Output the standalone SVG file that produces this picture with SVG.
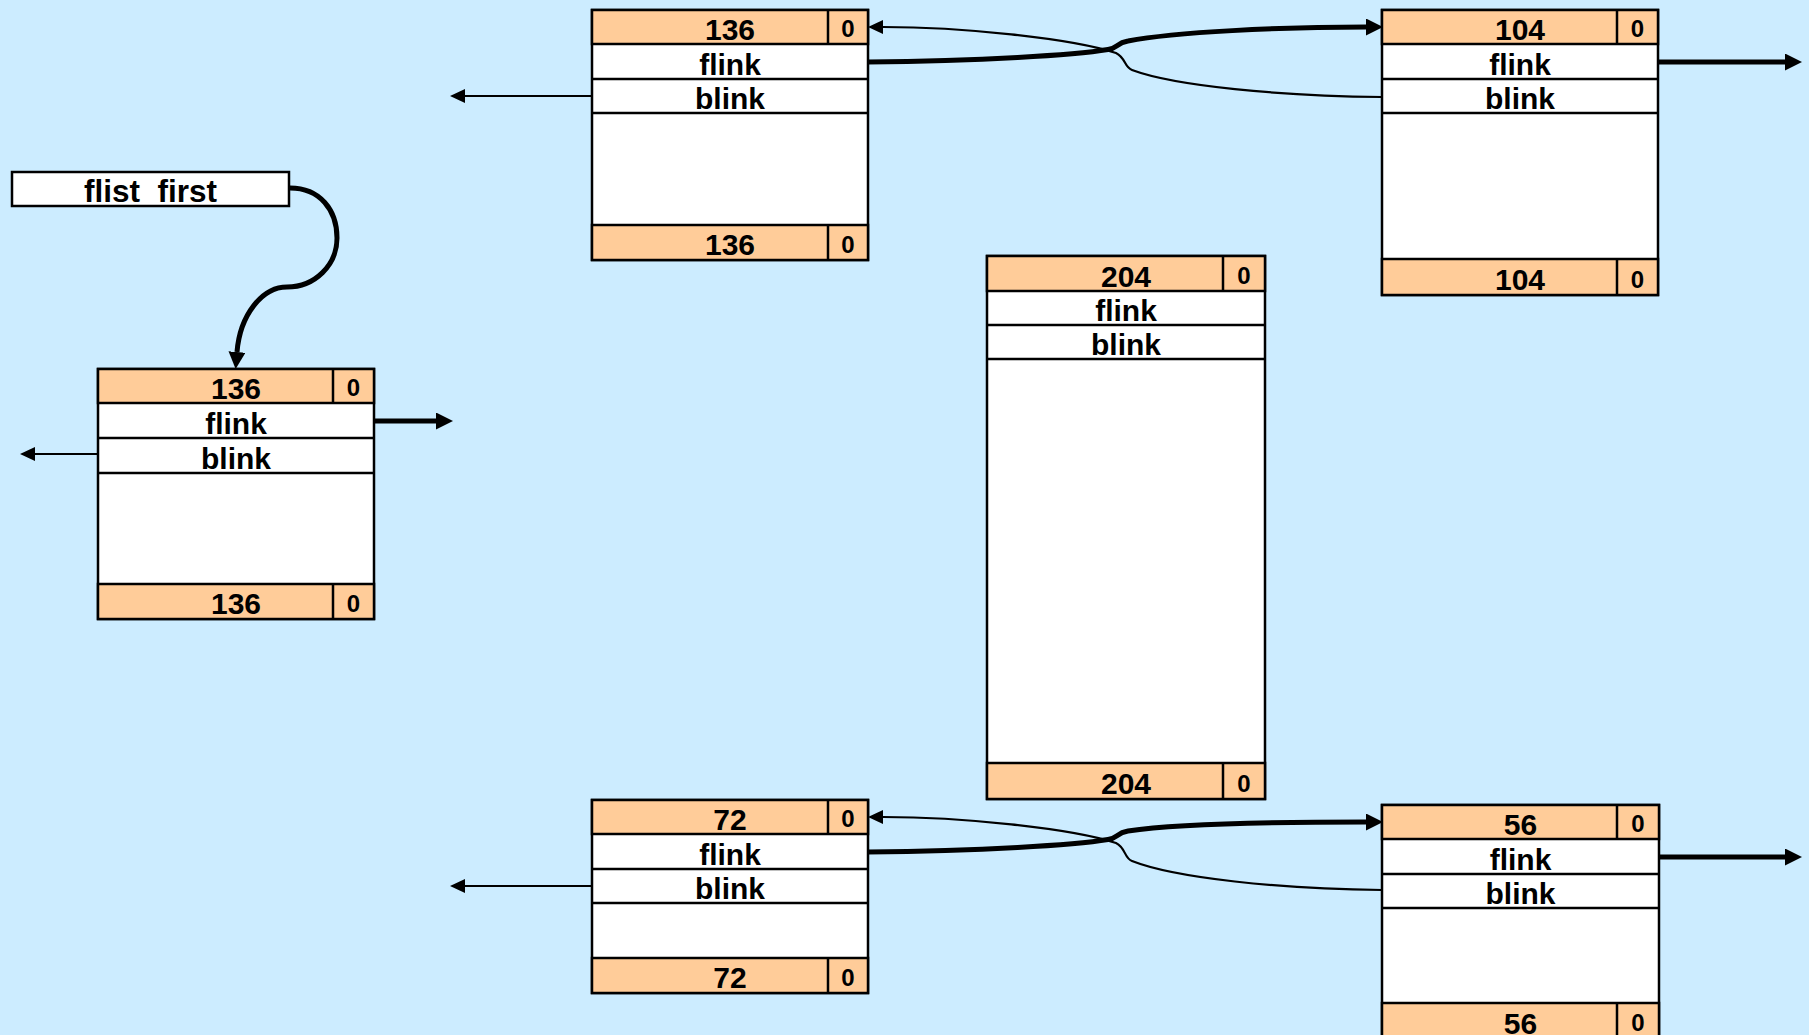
<svg xmlns="http://www.w3.org/2000/svg" width="1809" height="1035" viewBox="0 0 1809 1035">
<defs>
<style>
.bg{fill:#CCECFF}
.box{fill:#FFFFFF;stroke:#000;stroke-width:2.5}
.hdr{fill:#FFCC99;stroke:#000;stroke-width:2.5}
.sep{stroke:#000;stroke-width:2.5;fill:none}
.t{font-family:"Liberation Sans",Arial,sans-serif;font-weight:bold;font-size:30px;fill:#000;text-anchor:middle}
.z{font-family:"Liberation Sans",Arial,sans-serif;font-weight:bold;font-size:24px;fill:#000;text-anchor:middle}
.thick{stroke:#000;stroke-width:5;fill:none}
.thin{stroke:#000;stroke-width:2.2;fill:none}
</style>
<marker id="ah" markerUnits="userSpaceOnUse" markerWidth="18" markerHeight="18" refX="0" refY="8.5" orient="auto">
<path d="M0,0 L17,8.5 L0,17 z" fill="#000"/>
</marker>
<marker id="as" markerUnits="userSpaceOnUse" markerWidth="16" markerHeight="16" refX="0" refY="7" orient="auto">
<path d="M0,0 L15,7 L0,14 z" fill="#000"/>
</marker>
</defs>
<rect class="bg" x="0" y="0" width="1809" height="1035"/>

<g id="connectors">
<path class="thick" d="M290,188 C320,188 337,210 337,238 C337,265 315,287 287,287 C262,287 240,315 237,352" marker-end="url(#ah)"/>
<path class="thick" d="M374,421 L436,421" marker-end="url(#ah)"/>
<path class="thin" d="M98,454 L35,454" marker-end="url(#as)"/>
<path class="thin" d="M592,96 L465,96" marker-end="url(#as)"/>
<path class="thin" d="M592,886 L465,886" marker-end="url(#as)"/>
<path class="thick" d="M1658,62 L1785,62" marker-end="url(#ah)"/>
<path class="thick" d="M1659,857 L1785,857" marker-end="url(#ah)"/>
<path class="thick" d="M868,62 C980,61 1075,55 1108,49.5 C1118,48 1116,43 1128,41 C1175,32 1280,27 1366,27" marker-end="url(#ah)"/>
<path class="thin" d="M1382,97 C1280,96 1175,86 1132,70 C1124,67 1126,58 1116,53 C1070,38 960,27 883,27" marker-end="url(#as)"/>
<path class="thick" d="M868,852 C980,851 1075,845 1108,839.5 C1118,838 1116,833 1128,831 C1175,824 1280,822 1366,822" marker-end="url(#ah)"/>
<path class="thin" d="M1382,890 C1280,889 1175,878 1132,861 C1124,858 1126,848 1116,843 C1070,828 960,817 883,817" marker-end="url(#as)"/>
</g>

<g id="flist_first">
<rect class="box" x="12" y="172" width="277" height="34"/>
<text class="t" x="150.5" y="202" style="font-size:31.5px">flist_first</text>
</g>

<g id="chunk-136-top">
<rect class="box" x="592" y="10" width="276" height="250"/>
<rect class="hdr" x="592" y="10" width="276" height="34"/>
<rect class="hdr" x="592" y="225" width="276" height="35"/>
<path class="sep" d="M592,79 H868 M592,113 H868 M828,10 V44 M828,225 V260"/>
<text class="t" x="730" y="40">136</text>
<text class="z" x="848" y="37">0</text>
<text class="t" x="730" y="75">flink</text>
<text class="t" x="730" y="109">blink</text>
<text class="t" x="730" y="255">136</text>
<text class="z" x="848" y="253">0</text>
</g>

<g id="chunk-104">
<rect class="box" x="1382" y="10" width="276" height="285"/>
<rect class="hdr" x="1382" y="10" width="276" height="34"/>
<rect class="hdr" x="1382" y="259" width="276" height="36"/>
<path class="sep" d="M1382,79 H1658 M1382,113 H1658 M1617,10 V44 M1617,259 V295"/>
<text class="t" x="1520" y="40">104</text>
<text class="z" x="1637.5" y="37">0</text>
<text class="t" x="1520" y="75">flink</text>
<text class="t" x="1520" y="109">blink</text>
<text class="t" x="1520" y="290">104</text>
<text class="z" x="1637.5" y="288">0</text>
</g>

<g id="chunk-136-left">
<rect class="box" x="98" y="369" width="276" height="250"/>
<rect class="hdr" x="98" y="369" width="276" height="34"/>
<rect class="hdr" x="98" y="584" width="276" height="35"/>
<path class="sep" d="M98,438 H374 M98,473 H374 M333,369 V403 M333,584 V619"/>
<text class="t" x="236" y="399">136</text>
<text class="z" x="353.5" y="396">0</text>
<text class="t" x="236" y="434">flink</text>
<text class="t" x="236" y="469">blink</text>
<text class="t" x="236" y="614">136</text>
<text class="z" x="353.5" y="612">0</text>
</g>

<g id="chunk-204">
<rect class="box" x="987" y="256" width="278" height="543"/>
<rect class="hdr" x="987" y="256" width="278" height="35"/>
<rect class="hdr" x="987" y="763" width="278" height="36"/>
<path class="sep" d="M987,325 H1265 M987,359 H1265 M1223,256 V291 M1223,763 V799"/>
<text class="t" x="1126" y="287">204</text>
<text class="z" x="1244" y="284">0</text>
<text class="t" x="1126" y="321">flink</text>
<text class="t" x="1126" y="355">blink</text>
<text class="t" x="1126" y="794">204</text>
<text class="z" x="1244" y="792">0</text>
</g>

<g id="chunk-72">
<rect class="box" x="592" y="800" width="276" height="193"/>
<rect class="hdr" x="592" y="800" width="276" height="34"/>
<rect class="hdr" x="592" y="958" width="276" height="35"/>
<path class="sep" d="M592,869 H868 M592,903 H868 M828,800 V834 M828,958 V993"/>
<text class="t" x="730" y="830">72</text>
<text class="z" x="848" y="827">0</text>
<text class="t" x="730" y="865">flink</text>
<text class="t" x="730" y="899">blink</text>
<text class="t" x="730" y="988">72</text>
<text class="z" x="848" y="986">0</text>
</g>

<g id="chunk-56">
<rect class="box" x="1382" y="805" width="277" height="233"/>
<rect class="hdr" x="1382" y="805" width="277" height="34"/>
<rect class="hdr" x="1382" y="1003" width="277" height="35"/>
<path class="sep" d="M1382,874 H1659 M1382,908 H1659 M1617,805 V839 M1617,1003 V1038"/>
<text class="t" x="1520.5" y="835">56</text>
<text class="z" x="1638" y="832">0</text>
<text class="t" x="1520.5" y="870">flink</text>
<text class="t" x="1520.5" y="904">blink</text>
<text class="t" x="1520.5" y="1034">56</text>
<text class="z" x="1638" y="1031">0</text>
</g>
</svg>
